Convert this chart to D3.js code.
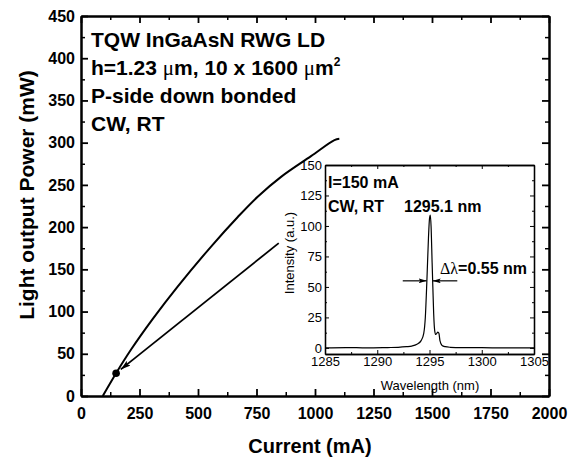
<!DOCTYPE html>
<html><head><meta charset="utf-8">
<script src="https://cdn.jsdelivr.net/npm/d3@7"></script>
<style>
html,body{margin:0;padding:0;background:#fff;}
svg{display:block;}
text{font-family:"Liberation Sans",Arial,sans-serif;fill:#000;}
</style></head>
<body>
<script>
// ---- Main L-I data ----
const current = [93, 150, 214, 306, 413, 556, 670, 755, 855, 983, 1083, 1104];
const power   = [0, 27, 55, 91, 129.5, 177, 212, 236, 259.5, 284, 303, 304.5];
const markedPoint = [150, 27];
const arrowFrom = [845, 181];
const arrowTo = [170, 31.5];
const xTicks = [0, 250, 500, 750, 1000, 1250, 1500, 1750, 2000];
const yTicks = [0, 50, 100, 150, 200, 250, 300, 350, 400, 450];
const annotations = ["TQW InGaAsN RWG LD", "h=1.23 μm, 10 x 1600 μm²", "P-side down bonded", "CW, RT"];

// ---- Inset spectrum data ----
const wavelength = [1285, 1287, 1289, 1291, 1292, 1292.8, 1293.3, 1293.8, 1294.2, 1294.45, 1294.6, 1294.75, 1294.9, 1295.0, 1295.08, 1295.15, 1295.25, 1295.32, 1295.4, 1295.5, 1295.6, 1295.7, 1295.8, 1295.9, 1296.0, 1296.2, 1296.5, 1297, 1298, 1300, 1302, 1305];
const intensity  = [0, 0.3, 0, 0.3, 0.5, 1, 1.5, 3, 6, 12, 25, 55, 90, 106, 109, 100, 70, 50, 28, 14, 11, 12, 13, 12, 6, 2, 1, 0.5, 0.2, 0.2, 0, 0];
const insetXTicks = [1285, 1290, 1295, 1300, 1305];
const insetYTicks = [0, 25, 50, 75, 100, 125, 150];
const fwhmLeft = [1292.44, 1294.73];
const fwhmRight = [1297.66, 1295.31];
const halfMax = 55;

const W = 568, H = 464;
const FONT = '"Liberation Sans",Arial,sans-serif';
const svg = d3.select("body").append("svg").attr("width", W).attr("height", H);
const defs = svg.append("defs");
defs.append("marker").attr("id","ah").attr("viewBox","0 0 10 6").attr("refX",10).attr("refY",3)
  .attr("markerWidth",10).attr("markerHeight",6).attr("markerUnits","userSpaceOnUse").attr("orient","auto")
  .append("path").attr("d","M0,0 L10,3 L0,6 L2,3 Z").attr("fill","#000");
defs.append("marker").attr("id","ah2").attr("viewBox","0 0 10 6").attr("refX",10).attr("refY",3)
  .attr("markerWidth",8).attr("markerHeight",5).attr("markerUnits","userSpaceOnUse").attr("orient","auto")
  .append("path").attr("d","M0,0 L10,3 L0,6 L2,3 Z").attr("fill","#000");

// main scales
const L = 81, R = 549, T = 16, B = 396;
const x = d3.scaleLinear().domain([0, 2000]).range([L, R]);
const y = d3.scaleLinear().domain([0, 450]).range([B, T]);

function styleAxis(g, sw, tw) {
  g.select(".domain").attr("stroke","#000").attr("stroke-width", sw);
  g.selectAll(".tick line").attr("stroke","#000").attr("stroke-width", tw);
}
const minorX = d3.range(125, 2000, 250);
const minorY = d3.range(25, 450, 50);
const fmt = d3.format("d");

// bottom
let g = svg.append("g").attr("transform",`translate(0,${B})`)
  .call(d3.axisBottom(x).tickValues(xTicks).tickSize(-7).tickSizeOuter(0).tickPadding(12).tickFormat(fmt));
styleAxis(g, 2, 1.8);
g.selectAll("text").attr("font-size",16).attr("font-weight","bold").attr("font-family",FONT);
g = svg.append("g").attr("transform",`translate(0,${B})`)
  .call(d3.axisBottom(x).tickValues(minorX).tickSize(-4).tickSizeOuter(0).tickFormat(""));
styleAxis(g, 2, 1.5);
// top
g = svg.append("g").attr("transform",`translate(0,${T})`)
  .call(d3.axisTop(x).tickValues(xTicks).tickSize(-7).tickSizeOuter(0).tickFormat(""));
styleAxis(g, 2, 1.8);
g = svg.append("g").attr("transform",`translate(0,${T})`)
  .call(d3.axisTop(x).tickValues(minorX).tickSize(-4).tickSizeOuter(0).tickFormat(""));
styleAxis(g, 2, 1.5);
// left
g = svg.append("g").attr("transform",`translate(${L},0)`)
  .call(d3.axisLeft(y).tickValues(yTicks).tickSize(-7).tickSizeOuter(0).tickPadding(6).tickFormat(fmt));
styleAxis(g, 2, 1.8);
g.selectAll("text").attr("font-size",16).attr("font-weight","bold").attr("font-family",FONT);
g = svg.append("g").attr("transform",`translate(${L},0)`)
  .call(d3.axisLeft(y).tickValues(minorY).tickSize(-4).tickSizeOuter(0).tickFormat(""));
styleAxis(g, 2, 1.5);
// right
g = svg.append("g").attr("transform",`translate(${R},0)`)
  .call(d3.axisRight(y).tickValues(yTicks).tickSize(-7).tickSizeOuter(0).tickFormat(""));
styleAxis(g, 2, 1.8);
g = svg.append("g").attr("transform",`translate(${R},0)`)
  .call(d3.axisRight(y).tickValues(minorY).tickSize(-4).tickSizeOuter(0).tickFormat(""));
styleAxis(g, 2, 1.5);

// axis titles
svg.append("text").attr("x", 310).attr("y", 453).attr("text-anchor","middle")
  .attr("font-size",20).attr("font-weight","bold").text("Current (mA)");
svg.append("text").attr("transform","translate(34,195) rotate(-90)").attr("text-anchor","middle")
  .attr("font-size",21).attr("font-weight","bold").text("Light output Power (mW)");

// curve
const liData = current.map((c,i)=>[c, power[i]]);
svg.append("path").datum(liData)
  .attr("d", d3.line().x(d=>x(d[0])).y(d=>y(d[1])).curve(d3.curveCatmullRom.alpha(0.5)))
  .attr("fill","none").attr("stroke","#000").attr("stroke-width",2);
svg.append("circle").attr("cx", x(markedPoint[0])).attr("cy", y(markedPoint[1])).attr("r",3.8).attr("fill","#000");
svg.append("line").attr("x1", x(arrowFrom[0])).attr("y1", y(arrowFrom[1]))
  .attr("x2", x(arrowTo[0])).attr("y2", y(arrowTo[1]))
  .attr("stroke","#000").attr("stroke-width",1.8).attr("marker-end","url(#ah)");

// annotation text
const ann = svg.append("g").attr("font-size",21).attr("font-weight","bold");
const baselines = [47, 75, 103, 131];
ann.append("text").attr("x",91).attr("y",baselines[0]).text(annotations[0]);
const t2 = ann.append("text").attr("x",91).attr("y",baselines[1]);
t2.append("tspan").text("h=1.23 ");
t2.append("tspan").attr("font-family","'Liberation Serif','Times New Roman',serif").attr("font-weight","normal").text("μ");
t2.append("tspan").text("m, 10 x 1600 ");
t2.append("tspan").attr("font-family","'Liberation Serif','Times New Roman',serif").attr("font-weight","normal").text("μ");
t2.append("tspan").text("m");
t2.append("tspan").attr("font-size",12).attr("dy",-9).text("2");
ann.append("text").attr("x",91).attr("y",baselines[2]).text(annotations[2]);
ann.append("text").attr("x",91).attr("y",baselines[3]).text(annotations[3]);

// ---- Inset ----
const iL = 325, iR = 534, iT = 165, iB = 354;
const ix = d3.scaleLinear().domain([1285, 1305]).range([iL, iR]);
const iy = d3.scaleLinear().domain([-5, 150]).range([iB, iT]);
svg.append("rect").attr("x",iL).attr("y",iT).attr("width",iR-iL).attr("height",iB-iT).attr("fill","#fff");
const iMinorX = d3.range(1287.5, 1305, 5);
const iMinorY = d3.range(12.5, 150, 25);
function insetAxis(gen, tx, ty, vals, size, f) {
  const a = svg.append("g").attr("transform",`translate(${tx},${ty})`)
    .call(gen.tickValues(vals).tickSize(size).tickSizeOuter(0).tickFormat(f));
  styleAxis(a, 1.3, 1);
  return a;
}
let ia = insetAxis(d3.axisBottom(ix).tickPadding(3), 0, iB, insetXTicks, -4, fmt);
ia.selectAll("text").attr("font-size",13).attr("font-family",FONT);
insetAxis(d3.axisBottom(ix), 0, iB, iMinorX, -2, "");
insetAxis(d3.axisTop(ix), 0, iT, insetXTicks, -4, "");
insetAxis(d3.axisTop(ix), 0, iT, iMinorX, -2, "");
ia = insetAxis(d3.axisLeft(iy).tickPadding(3), iL, 0, insetYTicks, -4, fmt);
ia.selectAll("text").attr("font-size",13).attr("font-family",FONT);
insetAxis(d3.axisLeft(iy), iL, 0, iMinorY, -2, "");
insetAxis(d3.axisRight(iy), iR, 0, insetYTicks, -4, "");
insetAxis(d3.axisRight(iy), iR, 0, iMinorY, -2, "");

svg.append("text").attr("x", 430).attr("y", 390).attr("text-anchor","middle").attr("font-size",13).text("Wavelength (nm)");
svg.append("text").attr("transform","translate(294,253) rotate(-90)").attr("text-anchor","middle").attr("font-size",13).text("Intensity (a.u.)");

const specData = wavelength.map((w,i)=>[w, intensity[i]]);
svg.append("path").datum(specData)
  .attr("d", d3.line().x(d=>ix(d[0])).y(d=>iy(d[1])).curve(d3.curveMonotoneX))
  .attr("fill","none").attr("stroke","#000").attr("stroke-width",1.2);

svg.append("line").attr("x1",ix(fwhmLeft[0])).attr("y1",iy(halfMax)).attr("x2",ix(fwhmLeft[1])).attr("y2",iy(halfMax))
  .attr("stroke","#000").attr("stroke-width",1.2).attr("marker-end","url(#ah2)");
svg.append("line").attr("x1",ix(fwhmRight[0])).attr("y1",iy(halfMax)).attr("x2",ix(fwhmRight[1])).attr("y2",iy(halfMax))
  .attr("stroke","#000").attr("stroke-width",1.2).attr("marker-end","url(#ah2)");

const ig = svg.append("g").attr("font-size",16).attr("font-weight","bold");
ig.append("text").attr("x",328).attr("y",188).text("I=150 mA");
ig.append("text").attr("x",328).attr("y",212).text("CW, RT");
ig.append("text").attr("x",404).attr("y",212).text("1295.1 nm");
const dl = ig.append("text").attr("x",440).attr("y",274);
dl.append("tspan").attr("font-family","'Liberation Serif','Times New Roman',serif").attr("font-weight","normal").text("Δλ");
dl.append("tspan").text("=0.55 nm");
</script>
</body></html>
